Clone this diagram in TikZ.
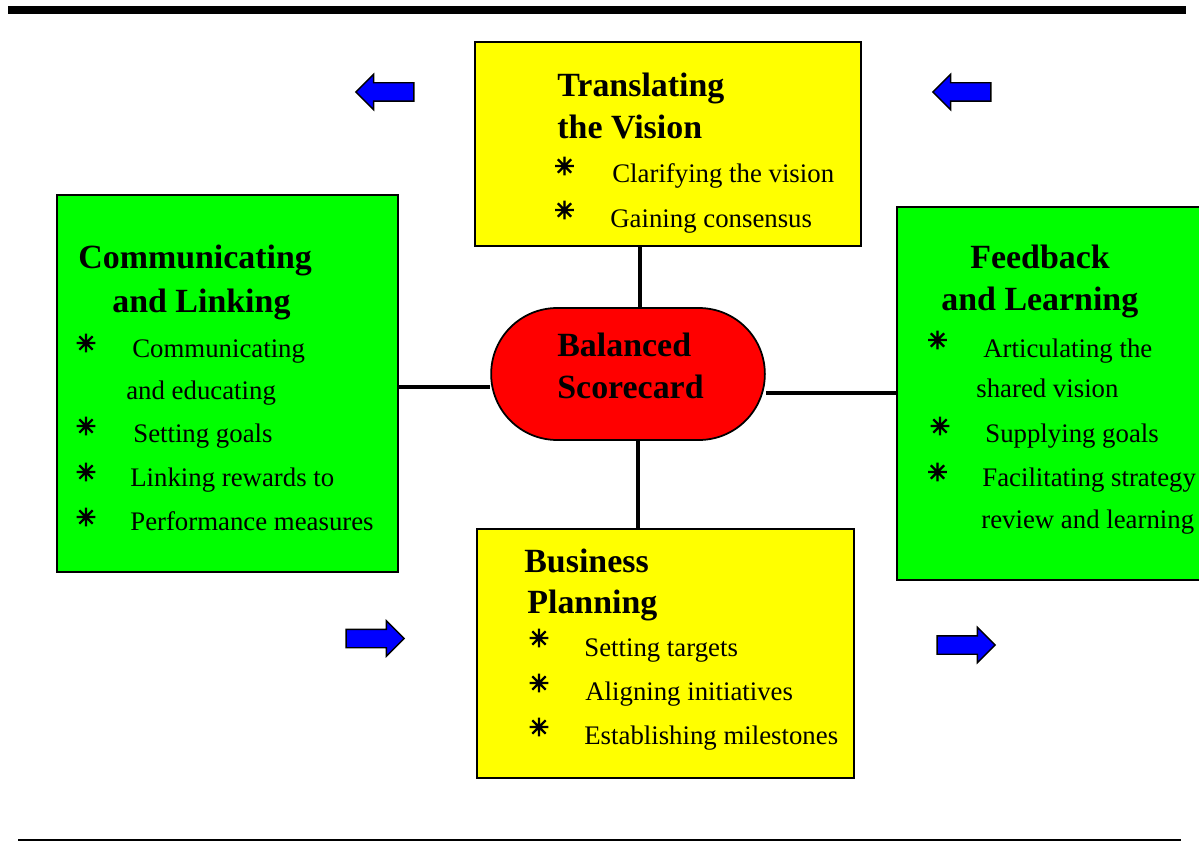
\documentclass[tikz,border=0pt]{standalone}
\usepackage{fontspec}
\setmainfont{Liberation Serif}
\newfontfamily\starfont[FakeBold=4]{DejaVu Sans}
\usepackage{tikz}
\usetikzlibrary{shapes.misc,shapes.arrows,fit}

\definecolor{boxyellow}{RGB}{255,255,0}
\definecolor{boxgreen}{RGB}{0,255,0}
\definecolor{hubred}{RGB}{255,0,0}
\definecolor{arrowblue}{RGB}{0,0,255}

\tikzset{
  panel/.style={draw=black, line width=1pt, inner sep=0pt},
  heading/.style={anchor=base west, inner sep=0pt, font=\fontsize{19.3}{23}\selectfont\bfseries},
  entry/.style={anchor=base west, inner sep=0pt, font=\fontsize{15.25}{18}\selectfont},
  star/.style={inner sep=0pt, font=\starfont\fontsize{14}{14}\selectfont},
  link/.style={line width=2.5pt},
  flow/.style={single arrow, draw=black, fill=arrowblue, line width=0.8pt,
    inner xsep=0pt, inner ysep=0.17cm,
    minimum height=1.16cm, minimum width=0.68cm,
    single arrow head extend=0.17cm, single arrow head indent=0pt}
}

\begin{document}
\begin{tikzpicture}[x=0.02cm, y=-0.02cm]
\useasboundingbox (0,0) rectangle (1199,841);

% rules at top and bottom of the page
\draw[line width=4.5pt] (8,10) -- (1186,10);
\draw[line width=0.8pt] (18,840) -- (1181,840);

% the four panels and the hub
\node[panel, fill=boxyellow, fit={(475,42) (861,246)}] (Vision) {};
\node[panel, fill=boxgreen, fit={(57,195) (398,572)}] (Linking) {};
\node[panel, fill=boxgreen, fit={(897,207) (1215,580)}] (Feedback) {};
\node[panel, fill=boxyellow, fit={(477,529) (854,778)}] (Planning) {};
\node[rounded rectangle, draw=black, line width=1pt, fill=hubred,
      minimum width=5.71cm, minimum height=2.64cm] (Hub) at (628,374) {};

% spokes
\draw[link] (Vision.south -| 640,0) -- (Hub.north -| 640,0);
\draw[link] (Hub.south -| 638,0) -- (Planning.north -| 638,0);
\draw[link] (Linking.east |- 0,387) -- (Hub.west |- 0,387);
\draw[link] (Hub.east |- 0,393) -- (Feedback.west |- 0,393);

% hub text
\node[heading] (HubH1) at (557,356) {Balanced};
\node[heading] (HubH2) at (557,398) {Scorecard};

% Translating the Vision
\node[heading] (VisionH1) at (557,97) {Translating};
\node[heading] (VisionH2) at (557,139) {the Vision};
\foreach \y [count=\i] in {166,210}
  \node[star] (VisionS\i) at (564.5,\y) {✳};
\foreach \x/\y/\t [count=\i] in {612/183/Clarifying the vision, 610/227/Gaining consensus}
  \node[entry] (VisionE\i) at (\x,\y) {\t};

% Communicating and Linking
\node[heading] (LinkingH1) at (78,268) {Communicating};
\node[heading] (LinkingH2) at (112,312) {and Linking};
\foreach \y [count=\i] in {343,426,472,517}
  \node[star] (LinkingS\i) at (86,\y) {✳};
\foreach \x/\y/\t [count=\i] in {132/357/Communicating, 126/399/and educating,
    133/442/Setting goals, 130/486/Linking rewards to, 130/530/Performance measures}
  \node[entry] (LinkingE\i) at (\x,\y) {\t};

% Feedback and Learning
\node[heading] (FeedbackH1) at (970,268) {Feedback};
\node[heading] (FeedbackH2) at (941,310) {and Learning};
\foreach \x/\y [count=\i] in {937.5/340, 940/426, 937.5/472}
  \node[star] (FeedbackS\i) at (\x,\y) {✳};
\foreach \x/\y/\t [count=\i] in {983/357/Articulating the, 976/397/shared vision,
    985/442/Supplying goals, 982/486/Facilitating strategy, 981/528/review and learning}
  \node[entry] (FeedbackE\i) at (\x,\y) {\t};

% Business Planning
\node[heading] (PlanningH1) at (524,572) {Business};
\node[heading] (PlanningH2) at (527,613) {Planning};
\foreach \y [count=\i] in {638,683,727}
  \node[star] (PlanningS\i) at (539,\y) {✳};
\foreach \x/\y/\t [count=\i] in {584/656/Setting targets, 585/700/Aligning initiatives,
    584/744/Establishing milestones}
  \node[entry] (PlanningE\i) at (\x,\y) {\t};

% blue arrows in the corners (node centre sits a little off towards the tip)
\node[flow, shape border rotate=180] (ArrowTL) at (389.5,92) {};
\node[flow, shape border rotate=180] (ArrowTR) at (966.5,92) {};
\node[flow] (ArrowBL) at (370.5,638.5) {};
\node[flow] (ArrowBR) at (961.5,645) {};
\end{tikzpicture}
\end{document}
